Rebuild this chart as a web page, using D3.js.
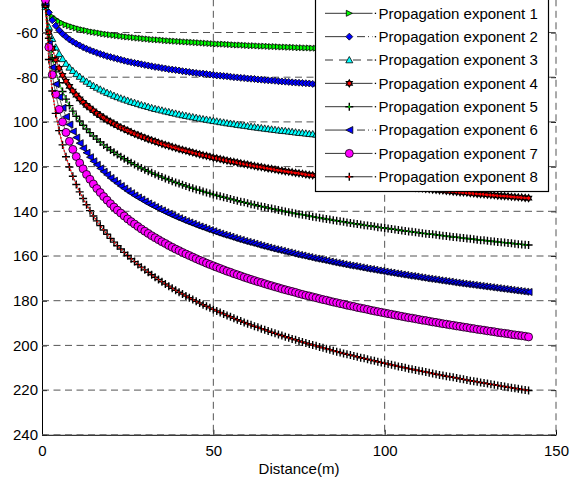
<!DOCTYPE html>
<html>
<head>
<meta charset="utf-8">
<script src="https://cdn.jsdelivr.net/npm/d3@7"></script>
<style>
body { margin: 0; background: #fff; }
text { font-family: "Liberation Sans", Arial, sans-serif; }
</style>
</head>
<body>
<div id="chart"></div>
<script>
"use strict";
// distance (m), one point per metre
var distance = [
  1,2,3,4,5,6,7,8,9,10,11,12,13,14,15,16,17,18,19,20,
  21,22,23,24,25,26,27,28,29,30,31,32,33,34,35,36,37,38,39,40,
  41,42,43,44,45,46,47,48,49,50,51,52,53,54,55,56,57,58,59,60,
  61,62,63,64,65,66,67,68,69,70,71,72,73,74,75,76,77,78,79,80,
  81,82,83,84,85,86,87,88,89,90,91,92,93,94,95,96,97,98,99,100,
  101,102,103,104,105,106,107,108,109,110,111,112,113,114,115,116,117,118,119,120,
  121,122,123,124,125,126,127,128,129,130,131,132,133,134,135,136,137,138,139,140,
  141,142];

var pe1 = [
  -48.0,-51.0,-52.8,-54.0,-55.0,-55.8,-56.5,-57.0,-57.5,-58.0,
  -58.4,-58.8,-59.1,-59.5,-59.8,-60.0,-60.3,-60.6,-60.8,-61.0,
  -61.2,-61.4,-61.6,-61.8,-62.0,-62.1,-62.3,-62.5,-62.6,-62.8,
  -62.9,-63.1,-63.2,-63.3,-63.4,-63.6,-63.7,-63.8,-63.9,-64.0,
  -64.1,-64.2,-64.3,-64.4,-64.5,-64.6,-64.7,-64.8,-64.9,-65.0,
  -65.1,-65.2,-65.2,-65.3,-65.4,-65.5,-65.6,-65.6,-65.7,-65.8,
  -65.9,-65.9,-66.0,-66.1,-66.1,-66.2,-66.3,-66.3,-66.4,-66.5,
  -66.5,-66.6,-66.6,-66.7,-66.8,-66.8,-66.9,-66.9,-67.0,-67.0,
  -67.1,-67.1,-67.2,-67.2,-67.3,-67.3,-67.4,-67.4,-67.5,-67.5,
  -67.6,-67.6,-67.7,-67.7,-67.8,-67.8,-67.9,-67.9,-68.0,-68.0,
  -68.0,-68.1,-68.1,-68.2,-68.2,-68.3,-68.3,-68.3,-68.4,-68.4,
  -68.5,-68.5,-68.5,-68.6,-68.6,-68.6,-68.7,-68.7,-68.8,-68.8,
  -68.8,-68.9,-68.9,-68.9,-69.0,-69.0,-69.0,-69.1,-69.1,-69.1,
  -69.2,-69.2,-69.2,-69.3,-69.3,-69.3,-69.4,-69.4,-69.4,-69.5,
  -69.5,-69.5];

var pe2 = [
  -45.0,-51.0,-54.5,-57.0,-59.0,-60.6,-61.9,-63.1,-64.1,-65.0,
  -65.8,-66.6,-67.3,-67.9,-68.5,-69.1,-69.6,-70.1,-70.6,-71.0,
  -71.4,-71.8,-72.2,-72.6,-73.0,-73.3,-73.6,-73.9,-74.2,-74.5,
  -74.8,-75.1,-75.4,-75.6,-75.9,-76.1,-76.4,-76.6,-76.8,-77.0,
  -77.3,-77.5,-77.7,-77.9,-78.1,-78.3,-78.4,-78.6,-78.8,-79.0,
  -79.2,-79.3,-79.5,-79.6,-79.8,-80.0,-80.1,-80.3,-80.4,-80.6,
  -80.7,-80.8,-81.0,-81.1,-81.3,-81.4,-81.5,-81.6,-81.8,-81.9,
  -82.0,-82.1,-82.3,-82.4,-82.5,-82.6,-82.7,-82.8,-83.0,-83.1,
  -83.2,-83.3,-83.4,-83.5,-83.6,-83.7,-83.8,-83.9,-84.0,-84.1,
  -84.2,-84.3,-84.4,-84.5,-84.6,-84.6,-84.7,-84.8,-84.9,-85.0,
  -85.1,-85.2,-85.3,-85.3,-85.4,-85.5,-85.6,-85.7,-85.7,-85.8,
  -85.9,-86.0,-86.1,-86.1,-86.2,-86.3,-86.4,-86.4,-86.5,-86.6,
  -86.7,-86.7,-86.8,-86.9,-86.9,-87.0,-87.1,-87.1,-87.2,-87.3,
  -87.3,-87.4,-87.5,-87.5,-87.6,-87.7,-87.7,-87.8,-87.9,-87.9,
  -88.0,-88.0];

var pe3 = [
  -48.5,-57.5,-62.8,-66.6,-69.5,-71.8,-73.9,-75.6,-77.1,-78.5,
  -79.7,-80.9,-81.9,-82.9,-83.8,-84.6,-85.4,-86.2,-86.9,-87.5,
  -88.2,-88.8,-89.4,-89.9,-90.4,-91.0,-91.4,-91.9,-92.4,-92.8,
  -93.2,-93.7,-94.1,-94.4,-94.8,-95.2,-95.5,-95.9,-96.2,-96.6,
  -96.9,-97.2,-97.5,-97.8,-98.1,-98.4,-98.7,-98.9,-99.2,-99.5,
  -99.7,-100.0,-100.2,-100.5,-100.7,-100.9,-101.2,-101.4,-101.6,-101.8,
  -102.1,-102.3,-102.5,-102.7,-102.9,-103.1,-103.3,-103.5,-103.7,-103.9,
  -104.0,-104.2,-104.4,-104.6,-104.8,-104.9,-105.1,-105.3,-105.4,-105.6,
  -105.8,-105.9,-106.1,-106.2,-106.4,-106.5,-106.7,-106.8,-107.0,-107.1,
  -107.3,-107.4,-107.6,-107.7,-107.8,-108.0,-108.1,-108.2,-108.4,-108.5,
  -108.6,-108.8,-108.9,-109.0,-109.1,-109.3,-109.4,-109.5,-109.6,-109.7,
  -109.9,-110.0,-110.1,-110.2,-110.3,-110.4,-110.5,-110.7,-110.8,-110.9,
  -111.0,-111.1,-111.2,-111.3,-111.4,-111.5,-111.6,-111.7,-111.8,-111.9,
  -112.0,-112.1,-112.2,-112.3,-112.4,-112.5,-112.6,-112.7,-112.8,-112.9,
  -113.0,-113.1];

var pe4 = [
  -48.0,-60.0,-67.1,-72.1,-76.0,-79.1,-81.8,-84.1,-86.2,-88.0,
  -89.7,-91.2,-92.6,-93.8,-95.0,-96.2,-97.2,-98.2,-99.2,-100.0,
  -100.9,-101.7,-102.5,-103.2,-103.9,-104.6,-105.3,-105.9,-106.5,-107.1,
  -107.7,-108.2,-108.7,-109.3,-109.8,-110.3,-110.7,-111.2,-111.6,-112.1,
  -112.5,-112.9,-113.3,-113.7,-114.1,-114.5,-114.9,-115.2,-115.6,-116.0,
  -116.3,-116.6,-117.0,-117.3,-117.6,-117.9,-118.2,-118.5,-118.8,-119.1,
  -119.4,-119.7,-120.0,-120.2,-120.5,-120.8,-121.0,-121.3,-121.6,-121.8,
  -122.1,-122.3,-122.5,-122.8,-123.0,-123.2,-123.5,-123.7,-123.9,-124.1,
  -124.3,-124.6,-124.8,-125.0,-125.2,-125.4,-125.6,-125.8,-126.0,-126.2,
  -126.4,-126.6,-126.7,-126.9,-127.1,-127.3,-127.5,-127.6,-127.8,-128.0,
  -128.2,-128.3,-128.5,-128.7,-128.8,-129.0,-129.2,-129.3,-129.5,-129.7,
  -129.8,-130.0,-130.1,-130.3,-130.4,-130.6,-130.7,-130.9,-131.0,-131.2,
  -131.3,-131.5,-131.6,-131.7,-131.9,-132.0,-132.2,-132.3,-132.4,-132.6,
  -132.7,-132.8,-133.0,-133.1,-133.2,-133.3,-133.5,-133.6,-133.7,-133.8,
  -134.0,-134.1];

var pe5 = [
  -47.5,-62.6,-71.4,-77.6,-82.5,-86.4,-89.8,-92.7,-95.2,-97.5,
  -99.6,-101.5,-103.2,-104.8,-106.3,-107.7,-109.0,-110.3,-111.4,-112.6,
  -113.6,-114.6,-115.6,-116.5,-117.4,-118.3,-119.1,-119.9,-120.6,-121.4,
  -122.1,-122.8,-123.4,-124.1,-124.7,-125.3,-125.9,-126.5,-127.1,-127.6,
  -128.1,-128.7,-129.2,-129.7,-130.2,-130.6,-131.1,-131.6,-132.0,-132.5,
  -132.9,-133.3,-133.7,-134.1,-134.5,-134.9,-135.3,-135.7,-136.0,-136.4,
  -136.8,-137.1,-137.5,-137.8,-138.1,-138.5,-138.8,-139.1,-139.4,-139.8,
  -140.1,-140.4,-140.7,-141.0,-141.3,-141.5,-141.8,-142.1,-142.4,-142.7,
  -142.9,-143.2,-143.5,-143.7,-144.0,-144.2,-144.5,-144.7,-145.0,-145.2,
  -145.5,-145.7,-145.9,-146.2,-146.4,-146.6,-146.8,-147.1,-147.3,-147.5,
  -147.7,-147.9,-148.1,-148.4,-148.6,-148.8,-149.0,-149.2,-149.4,-149.6,
  -149.8,-150.0,-150.2,-150.3,-150.5,-150.7,-150.9,-151.1,-151.3,-151.5,
  -151.6,-151.8,-152.0,-152.2,-152.3,-152.5,-152.7,-152.9,-153.0,-153.2,
  -153.4,-153.5,-153.7,-153.9,-154.0,-154.2,-154.3,-154.5,-154.7,-154.8,
  -155.0,-155.1];

var pe6 = [
  -47.0,-65.1,-75.6,-83.1,-88.9,-93.7,-97.7,-101.2,-104.3,-107.0,
  -109.5,-111.8,-113.8,-115.8,-117.6,-119.2,-120.8,-122.3,-123.7,-125.1,
  -126.3,-127.5,-128.7,-129.8,-130.9,-131.9,-132.9,-133.8,-134.7,-135.6,
  -136.5,-137.3,-138.1,-138.9,-139.6,-140.4,-141.1,-141.8,-142.5,-143.1,
  -143.8,-144.4,-145.0,-145.6,-146.2,-146.8,-147.3,-147.9,-148.4,-148.9,
  -149.5,-150.0,-150.5,-150.9,-151.4,-151.9,-152.4,-152.8,-153.3,-153.7,
  -154.1,-154.5,-155.0,-155.4,-155.8,-156.2,-156.6,-157.0,-157.3,-157.7,
  -158.1,-158.4,-158.8,-159.2,-159.5,-159.8,-160.2,-160.5,-160.9,-161.2,
  -161.5,-161.8,-162.1,-162.5,-162.8,-163.1,-163.4,-163.7,-164.0,-164.3,
  -164.5,-164.8,-165.1,-165.4,-165.7,-165.9,-166.2,-166.5,-166.7,-167.0,
  -167.3,-167.5,-167.8,-168.0,-168.3,-168.5,-168.8,-169.0,-169.2,-169.5,
  -169.7,-170.0,-170.2,-170.4,-170.6,-170.9,-171.1,-171.3,-171.5,-171.8,
  -172.0,-172.2,-172.4,-172.6,-172.8,-173.0,-173.2,-173.4,-173.6,-173.8,
  -174.0,-174.2,-174.4,-174.6,-174.8,-175.0,-175.2,-175.4,-175.6,-175.8,
  -176.0,-176.1];

var pe7 = [
  -45.5,-66.6,-78.9,-87.6,-94.4,-100.0,-104.7,-108.7,-112.3,-115.5,
  -118.4,-121.0,-123.5,-125.7,-127.8,-129.8,-131.6,-133.4,-135.0,-136.6,
  -138.1,-139.5,-140.8,-142.1,-143.4,-144.6,-145.7,-146.8,-147.9,-148.9,
  -149.9,-150.9,-151.8,-152.7,-153.6,-154.4,-155.3,-156.1,-156.9,-157.6,
  -158.4,-159.1,-159.8,-160.5,-161.2,-161.9,-162.5,-163.2,-163.8,-164.4,
  -165.0,-165.6,-166.2,-166.8,-167.3,-167.9,-168.4,-168.9,-169.5,-170.0,
  -170.5,-171.0,-171.5,-171.9,-172.4,-172.9,-173.3,-173.8,-174.2,-174.7,
  -175.1,-175.5,-175.9,-176.3,-176.8,-177.2,-177.6,-177.9,-178.3,-178.7,
  -179.1,-179.5,-179.8,-180.2,-180.6,-180.9,-181.3,-181.6,-182.0,-182.3,
  -182.6,-183.0,-183.3,-183.6,-183.9,-184.3,-184.6,-184.9,-185.2,-185.5,
  -185.8,-186.1,-186.4,-186.7,-187.0,-187.3,-187.6,-187.8,-188.1,-188.4,
  -188.7,-188.9,-189.2,-189.5,-189.7,-190.0,-190.3,-190.5,-190.8,-191.0,
  -191.3,-191.5,-191.8,-192.0,-192.3,-192.5,-192.8,-193.0,-193.2,-193.5,
  -193.7,-193.9,-194.2,-194.4,-194.6,-194.8,-195.1,-195.3,-195.5,-195.7,
  -195.9,-196.2];

var pe8 = [
  -48.0,-72.1,-86.2,-96.2,-103.9,-110.3,-115.6,-120.2,-124.3,-128.0,
  -131.3,-134.3,-137.1,-139.7,-142.1,-144.3,-146.4,-148.4,-150.3,-152.1,
  -153.8,-155.4,-156.9,-158.4,-159.8,-161.2,-162.5,-163.8,-165.0,-166.2,
  -167.3,-168.4,-169.5,-170.5,-171.5,-172.5,-173.5,-174.4,-175.3,-176.2,
  -177.0,-177.9,-178.7,-179.5,-180.3,-181.0,-181.8,-182.5,-183.2,-183.9,
  -184.6,-185.3,-185.9,-186.6,-187.2,-187.9,-188.5,-189.1,-189.7,-190.3,
  -190.8,-191.4,-191.9,-192.5,-193.0,-193.6,-194.1,-194.6,-195.1,-195.6,
  -196.1,-196.6,-197.1,-197.5,-198.0,-198.5,-198.9,-199.4,-199.8,-200.2,
  -200.7,-201.1,-201.5,-201.9,-202.4,-202.8,-203.2,-203.6,-204.0,-204.3,
  -204.7,-205.1,-205.5,-205.8,-206.2,-206.6,-206.9,-207.3,-207.6,-208.0,
  -208.3,-208.7,-209.0,-209.4,-209.7,-210.0,-210.4,-210.7,-211.0,-211.3,
  -211.6,-211.9,-212.2,-212.6,-212.9,-213.2,-213.5,-213.8,-214.0,-214.3,
  -214.6,-214.9,-215.2,-215.5,-215.8,-216.0,-216.3,-216.6,-216.8,-217.1,
  -217.4,-217.6,-217.9,-218.2,-218.4,-218.7,-218.9,-219.2,-219.4,-219.7,
  -219.9,-220.2];

var seriesNames = ['Propagation exponent 1', 'Propagation exponent 2', 'Propagation exponent 3',
  'Propagation exponent 4', 'Propagation exponent 5', 'Propagation exponent 6',
  'Propagation exponent 7', 'Propagation exponent 8'];
var xTicks = [0, 50, 100, 150];
var yTicks = [-60, -80, -100, -120, -140, -160, -180, -200, -220, -240];
var yTickLabels = ['-60', '-80', '100', '120', '140', '160', '180', '200', '220', '240'];
var xLabel = 'Distance(m)';

var series = [pe1, pe2, pe3, pe4, pe5, pe6, pe7, pe8];
var styles = [
  { fill: '#00ff00', marker: 'triRight', size: 6, sw: 0.8, dash: null, dot: null },
  { fill: '#0000ff', marker: 'diamond', size: 7, sw: 0.8, dash: '21,11,8,3,1,3', dot: null },
  { fill: '#00ffff', marker: 'triUp', size: 7, sw: 0.8, dash: '8,6', dot: null },
  { fill: '#ff0000', marker: 'hexagram', size: 7, sw: 1.1, dash: null, dot: '#ff0000' },
  { fill: 'none', marker: 'plus', size: 8, sw: 1.4, dash: null, dot: '#00c000' },
  { fill: '#0000ff', marker: 'triLeft', size: 7, sw: 0.8, dash: '21,11,8,3,1,3', dot: null },
  { fill: '#ff00ff', marker: 'circle', size: 8, sw: 0.8, dash: null, dot: null },
  { fill: 'none', marker: 'plus', size: 8, sw: 1.4, dash: null, dot: '#ff0000' }
];

function markerPath(type, s) {
  var h = s / 2;
  if (type == 'triRight') return 'M' + (-h) + ',' + (-h) + 'L' + h + ',0L' + (-h) + ',' + h + 'Z';
  if (type == 'triLeft') return 'M' + h + ',' + (-h) + 'L' + (-h) + ',0L' + h + ',' + h + 'Z';
  if (type == 'triUp') return 'M' + (-h) + ',' + (h * 0.8) + 'L0,' + (-h) + 'L' + h + ',' + (h * 0.8) + 'Z';
  if (type == 'diamond') return 'M0,' + (-h) + 'L' + h + ',0L0,' + h + 'L' + (-h) + ',0Z';
  if (type == 'plus') return 'M' + (-h) + ',0H' + h + 'M0,' + (-h) + 'V' + h;
  if (type == 'circle') return d3.symbol(d3.symbolCircle, Math.PI * h * h)();
  // hexagram: 12 point star
  var pts = d3.range(12).map(function (k) {
    var a = (k * 30 - 90) * Math.PI / 180, r = k % 2 ? h * 0.58 : h;
    return [r * Math.cos(a), r * Math.sin(a)];
  });
  return 'M' + pts.join('L') + 'Z';
}

var width = 575, height = 481;
var svg = d3.select('#chart')
  .append('svg')
  .attr('width', width)
  .attr('height', height)
  .style('display', 'block');
svg.append('rect').attr('width', width).attr('height', height).attr('fill', '#fff');

var x = d3.scaleLinear().domain([0, 150]).range([42, 556]);
var y = d3.scaleLinear().domain([-40, -240]).range([-12.2, 434.8]);

// axes (ticks inside, MATLAB style)
var yAxis = svg.append('g')
  .attr('transform', 'translate(' + x(0) + ',0)')
  .call(d3.axisLeft(y).tickValues(yTicks).tickSize(-5).tickSizeOuter(0).tickPadding(4)
    .tickFormat(function (d, i) { return yTickLabels[i]; }));
var rAxis = svg.append('g')
  .attr('transform', 'translate(' + x(150) + ',0)')
  .call(d3.axisRight(y).tickValues(yTicks).tickSize(-5).tickSizeOuter(0).tickFormat(''));
rAxis.select('.domain').remove();
var xAxis = svg.append('g')
  .attr('transform', 'translate(0,' + y(-240) + ')')
  .call(d3.axisBottom(x).tickValues(xTicks).tickSize(-5).tickSizeOuter(0).tickPadding(11));
[yAxis, rAxis, xAxis].forEach(function (g) {
  g.attr('font-size', 15).attr('font-family', '"Liberation Sans", Arial, sans-serif');
  g.selectAll('path, line').attr('stroke', '#000').attr('stroke-width', 1);
  g.selectAll('text').attr('fill', '#000');
});

// grid
svg.selectAll('.vgrid')
  .data(xTicks.slice(1))
  .enter().append('line')
  .classed('vgrid', true)
  .attr('x1', x).attr('x2', x)
  .attr('y1', y(-40)).attr('y2', y(-240))
  .attr('stroke', '#555').attr('stroke-dasharray', '7,4.5');
svg.selectAll('.hgrid')
  .data(yTicks)
  .enter().append('line')
  .classed('hgrid', true)
  .attr('x1', x(0)).attr('x2', x(150))
  .attr('y1', y).attr('y2', y)
  .attr('stroke', '#555').attr('stroke-dasharray', '7,4.5');

svg.append('text')
  .text(xLabel)
  .attr('x', (x(0) + x(150)) / 2)
  .attr('y', 474)
  .attr('text-anchor', 'middle')
  .attr('font-size', 15)
  .attr('fill', '#000');

var line = d3.line()
  .x(function (p) { return x(p[0]); })
  .y(function (p) { return y(p[1]); });

series.forEach(function (vals, i) {
  var st = styles[i];
  var pts = distance.map(function (d, j) { return [d, vals[j]]; });
  var g = svg.append('g').classed('series', true);
  g.append('path')
    .datum(pts)
    .attr('d', line)
    .attr('fill', 'none')
    .attr('stroke', '#000')
    .attr('stroke-width', 0.6)
    .attr('stroke-dasharray', st.dash);
  g.selectAll('.mk')
    .data(pts)
    .enter().append('path')
    .classed('mk', true)
    .attr('transform', function (p) { return 'translate(' + x(p[0]) + ',' + y(p[1]) + ')'; })
    .attr('d', markerPath(st.marker, st.size))
    .attr('fill', st.fill)
    .attr('stroke', '#000')
    .attr('stroke-width', st.sw);
  if (st.dot) {
    g.append('path')
      .datum(pts)
      .attr('d', line)
      .attr('fill', 'none')
      .attr('stroke', st.dot)
      .attr('stroke-width', 1.6)
      .attr('stroke-dasharray', '1.3,2.1');
  }
});

// legend
var leg = svg.append('g').attr('transform', 'translate(315.5,-1.5)');
leg.append('rect')
  .attr('width', 233)
  .attr('height', 193)
  .attr('fill', '#fff')
  .attr('stroke', '#000')
  .attr('stroke-width', 1.2);
var rows = leg.selectAll('.row')
  .data(seriesNames)
  .enter().append('g')
  .classed('row', true)
  .attr('transform', function (d, i) { return 'translate(0,' + (14.8 + i * 23.35) + ')'; });
rows.append('line')
  .attr('x1', 9.5).attr('x2', 57)
  .attr('stroke', '#000')
  .attr('stroke-width', 0.8)
  .attr('stroke-dasharray', function (d, i) { return styles[i].dash; });
rows.append('rect')
  .attr('x', 59.3).attr('y', -0.6)
  .attr('width', 1.3).attr('height', 1.3)
  .attr('fill', '#000');
rows.append('path')
  .attr('transform', 'translate(33.8,0)')
  .attr('d', function (d, i) { return markerPath(styles[i].marker, styles[i].size); })
  .attr('fill', function (d, i) { return styles[i].fill; })
  .attr('stroke', '#000')
  .attr('stroke-width', function (d, i) { return styles[i].sw; });
rows.filter(function (d, i) { return styles[i].dot; })
  .append('circle')
  .attr('cx', 33.8).attr('r', 1.2)
  .attr('fill', function (d) { return styles[seriesNames.indexOf(d)].dot; });
rows.append('text')
  .attr('x', 63)
  .attr('dy', '0.36em')
  .attr('font-size', 15)
  .attr('fill', '#000')
  .text(function (d) { return d; });
</script>
</body>
</html>
